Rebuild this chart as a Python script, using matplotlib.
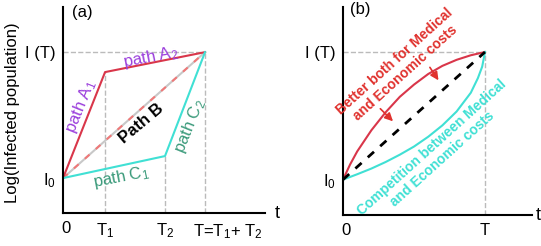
import matplotlib.pyplot as plt

plt.rcParams['font.family'] = ['Liberation Sans', 'DejaVu Sans']
plt.rcParams['mathtext.fontset'] = 'custom'
plt.rcParams['mathtext.rm'] = 'Liberation Sans'
plt.rcParams['mathtext.it'] = 'Liberation Sans'

# values (T = 1, I(T) = 1)
I0 = 0.217
IT = 1.0
T1 = 0.296
T2 = 0.718
T = 1.0

pathA_x = [0, T1, T]
pathA_y = [I0, 0.876, IT]
pathB_x = [0, T]
pathB_y = [I0, IT]
pathC_x = [0, T2, T]
pathC_y = [I0, 0.354, IT]

better_x = [0, 0.05, 0.1, 0.2, 0.3, 0.4, 0.5, 0.6, 0.7, 0.8, 0.9, 1.0]
better_y = [I0, 0.31, 0.39, 0.52, 0.63, 0.725, 0.80, 0.865, 0.915, 0.952, 0.98, 1.0]
comp_x = [0, 0.1, 0.2, 0.3, 0.4, 0.5, 0.6, 0.7, 0.8, 0.9, 0.95, 0.98, 1.0]
comp_y = [I0, 0.25, 0.285, 0.325, 0.37, 0.42, 0.48, 0.55, 0.635, 0.75, 0.84, 0.91, 1.0]

red = '#d9364a'
cyan = '#40e0d4'
purple = '#9b3fdc'
teal = '#3a9a7a'
grey = '#bbbbbb'

fig = plt.figure(figsize=(5.41, 2.46), dpi=100)
axa = fig.add_axes([0.1165, 0.1341, 0.3734, 0.837])
axb = fig.add_axes([0.634, 0.126, 0.3494, 0.8455])

for ax in (axa, axb):
    for s in ('top', 'right'):
        ax.spines[s].set_visible(False)
    for s in ('left', 'bottom'):
        ax.spines[s].set_linewidth(1.5)
    ax.tick_params(length=0, labelsize=12)
    ax.tick_params(axis='x', pad=6)
    ax.tick_params(axis='y', pad=5)

# ---- panel (a)
axa.set_xlim(0, 1.4225)
axa.set_ylim(0, 1.28)
axa.plot([0, T], [IT, IT], '--', color=grey, lw=1)
axa.plot([T, T], [0, IT], '--', color=grey, lw=1)
axa.plot([T1, T1], [0, pathA_y[1]], '--', color=grey, lw=1)
axa.plot([T2, T2], [0, pathC_y[1]], '--', color=grey, lw=1)
axa.plot(pathB_x, pathB_y, color='#c8c8c8', lw=1.5)
axa.plot(pathB_x, pathB_y, color='#f07878', lw=1.5, dashes=(3, 4))
axa.plot(pathA_x, pathA_y, color=red, lw=1.5)
axa.plot(pathC_x, pathC_y, color=cyan, lw=1.5)

axa.set_xticks([0.02, T1, T2])
axa.set_xticklabels(['0', 'T$_1$', 'T$_2$'])
axa.set_yticks([I0, IT])
axa.set_yticklabels(['I$_0$', 'I (T)'])
axa.text(1.162, -0.118, 'T=T$_1$+ T$_2$', fontsize=12, ha='center', va='center')
axa.text(1.507, 0.0, 't', fontsize=13, ha='center', va='center')
axa.text(0.134, 1.248, '(a)', fontsize=12, ha='center', va='center')

kw = dict(ha='center', va='center', rotation_mode='anchor', fontsize=12)
axa.text(0.123, 0.665, 'path A$_1$', color=purple, rotation=68, **kw)
axa.text(0.62, 0.966, 'path A$_2$', color=purple, rotation=11, **kw)
axa.text(0.549, 0.553, 'Path B', color='black', rotation=40, fontweight='bold', **kw)
axa.text(0.413, 0.225, 'path C$_1$', color=teal, rotation=11, **kw)
axa.text(0.894, 0.54, 'path C$_2$', color=teal, rotation=68, **kw)

fig.text(13 / 541, 1 - 113 / 246, 'Log(Infected population)', rotation=90,
         ha='center', va='center', fontsize=12)

# ---- panel (b)
axb.set_xlim(0, 1.331)
axb.set_ylim(0, 1.276)
axb.plot([0, T], [IT, IT], '--', color=grey, lw=1)
axb.plot([T, T], [0, IT], '--', color=grey, lw=1)
axb.plot(better_x, better_y, color=red, lw=1.5)
axb.plot(comp_x, comp_y, color=cyan, lw=1.5)
axb.plot([0, T], [I0, IT], color='black', lw=2, dashes=(3, 3))

axb.set_xticks([0.02, T])
axb.set_xticklabels(['0', 'T'])
axb.set_yticks([I0, IT])
axb.set_yticklabels(['I$_0$', 'I (T)'])
axb.text(1.373, 0.0, 't', fontsize=13, ha='center', va='center')
axb.text(0.12, 1.258, '(b)', fontsize=12, ha='center', va='center')

kwb = dict(ha='center', va='center', rotation=42, rotation_mode='anchor',
           fontsize=10, fontweight='bold', linespacing=1.1)
axb.text(0.40, 0.905, 'Better both for Medical\nand Economic costs', color='#e0322e', **kwb)
axb.text(0.662, 0.38, 'Competition between Medical\nand Economic costs', color=cyan, **kwb)

ap = dict(arrowstyle='-|>', color='#e0322e', lw=1.2, mutation_scale=12)
axb.annotate('', xy=(0.366, 0.563), xytext=(0.249, 0.664), arrowprops=ap)
axb.annotate('', xy=(0.683, 0.812), xytext=(0.601, 0.920), arrowprops=ap)

fig.savefig('out.png', dpi=100)
